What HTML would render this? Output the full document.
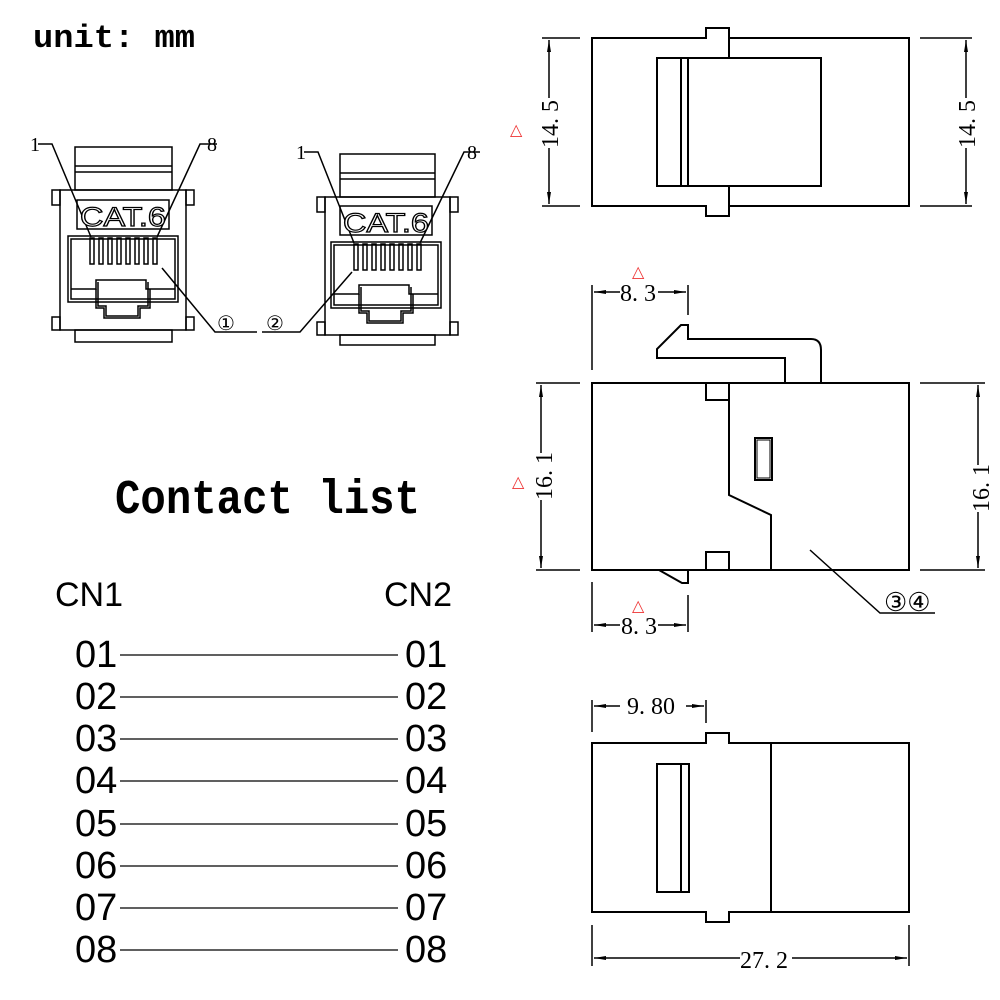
<!DOCTYPE html>
<html><head><meta charset="utf-8"><style>
body{margin:0;background:#fff;}
svg{display:block}
</style></head><body>
<svg width="1000" height="1000" viewBox="0 0 1000 1000" xmlns="http://www.w3.org/2000/svg">
<defs>
<marker id="a" markerWidth="12" markerHeight="6" refX="12" refY="3" orient="auto" markerUnits="userSpaceOnUse"><path d="M0,1 L12,3 L0,5 Z" fill="#000"/></marker>
</defs>
<rect width="1000" height="1000" fill="#fff"/>
<text x="33" y="47" font-family="Liberation Mono" font-weight="bold" font-size="32" textLength="162" lengthAdjust="spacingAndGlyphs">unit: mm</text>

<g fill="none" stroke="#000" stroke-width="1.5">
<rect x="75" y="147" width="97" height="43"/>
<line x1="75" y1="166" x2="172" y2="166"/><line x1="75" y1="172" x2="172" y2="172"/>
<rect x="60" y="190" width="126" height="140"/>
<rect x="52" y="190" width="8" height="15"/><rect x="186" y="190" width="8" height="15"/>
<rect x="52" y="317" width="8" height="13"/><rect x="186" y="317" width="8" height="13"/>
<rect x="77" y="200" width="92" height="29"/>
<rect x="68" y="236" width="110" height="66"/><rect x="71" y="239" width="104" height="60"/>
<path d="M71,289 H96 V280 H146 V289 H175"/>
<path d="M96,289 V308 H104 V318 H140 V308 H150 V289"/>
<path d="M98,282 V306 H106 V316 H138 V306 H148 V282"/>
<rect x="75" y="330" width="97" height="12"/>
<rect x="340" y="154" width="95" height="43"/>
<line x1="340" y1="173" x2="435" y2="173"/><line x1="340" y1="179" x2="435" y2="179"/>
<rect x="325" y="197" width="125" height="138"/>
<rect x="317" y="197" width="8" height="15"/><rect x="450" y="197" width="8" height="15"/>
<rect x="317" y="322" width="8" height="13"/><rect x="450" y="322" width="8" height="13"/>
<rect x="340" y="206" width="92" height="29"/>
<rect x="331" y="242" width="110" height="66"/><rect x="334" y="245" width="104" height="60"/>
<path d="M334,294 H359 V285 H409 V294 H438"/>
<path d="M359,294 V313 H367 V323 H403 V313 H413 V294"/>
<path d="M361,287 V311 H369 V321 H401 V311 H411 V287"/>
<rect x="340" y="335" width="95" height="10"/>
</g>
<g fill="none" stroke="#000" stroke-width="1.5">
<g id="p1">
<rect x="90" y="238" width="4" height="26"/><rect x="99" y="238" width="4" height="26"/><rect x="108" y="238" width="4" height="26"/><rect x="117" y="238" width="4" height="26"/><rect x="126" y="238" width="4" height="26"/><rect x="135" y="238" width="4" height="26"/><rect x="144" y="238" width="4" height="26"/><rect x="153" y="238" width="4" height="26"/>
</g>
<use href="#p1" transform="translate(264,6)"/>
<path d="M38,144 H52 L91,237"/><path d="M217,144 H200 L157,237"/>
<path d="M304,152 H318 L354,243"/><path d="M480,152 H464 L420,243"/>
<path d="M162,268 L215,332 H257"/><path d="M262,332 H300 L352,272"/>
</g>
<g font-family="Liberation Serif" font-size="20">
<text x="30" y="151">1</text><text x="207" y="151">8</text>
<text x="296" y="159">1</text><text x="467" y="159">8</text>
<text x="217" y="330" font-size="20">①</text><text x="266" y="330" font-size="20">②</text>
</g>
<g font-family="Liberation Sans" font-size="27" fill="#fff" stroke="#000" stroke-width="1.2">
<text x="80" y="226" textLength="86" lengthAdjust="spacingAndGlyphs">CAT.6</text>
<text x="343" y="232" textLength="86" lengthAdjust="spacingAndGlyphs">CAT.6</text>
</g>

<text x="115" y="513" font-family="Liberation Mono" font-weight="bold" font-size="42" textLength="305" lengthAdjust="spacingAndGlyphs" transform="translate(0,-77) scale(1,1.15)">Contact list</text>
<g font-family="Liberation Sans" font-size="34">
<text x="55" y="606">CN1</text><text x="384" y="606">CN2</text>
</g>
<g font-family="Liberation Sans" font-size="38">
<text x="75" y="667">01</text><text x="405" y="667">01</text>
<text x="75" y="709">02</text><text x="405" y="709">02</text>
<text x="75" y="751">03</text><text x="405" y="751">03</text>
<text x="75" y="793">04</text><text x="405" y="793">04</text>
<text x="75" y="836">05</text><text x="405" y="836">05</text>
<text x="75" y="878">06</text><text x="405" y="878">06</text>
<text x="75" y="920">07</text><text x="405" y="920">07</text>
<text x="75" y="962">08</text><text x="405" y="962">08</text>
</g>
<g stroke="#000" stroke-width="1.3">
<line x1="120" y1="655" x2="398" y2="655"/><line x1="120" y1="697" x2="398" y2="697"/>
<line x1="120" y1="739" x2="398" y2="739"/><line x1="120" y1="781" x2="398" y2="781"/>
<line x1="120" y1="824" x2="398" y2="824"/><line x1="120" y1="866" x2="398" y2="866"/>
<line x1="120" y1="908" x2="398" y2="908"/><line x1="120" y1="950" x2="398" y2="950"/>
</g>

<g fill="none" stroke="#000" stroke-width="2">
<path d="M592,38 H706 V28 H729 V38 H909 V206 H729 V216 H706 V206 H592 Z"/>
<line x1="729" y1="38" x2="729" y2="58"/><line x1="729" y1="186" x2="729" y2="206"/>
<rect x="657" y="58" width="164" height="128"/>
<line x1="681" y1="58" x2="681" y2="186"/><line x1="688" y1="58" x2="688" y2="186"/>
</g>
<g stroke="#000" stroke-width="1.5" fill="none">
<line x1="542" y1="38" x2="580" y2="38"/><line x1="542" y1="206" x2="580" y2="206"/>
<line x1="549" y1="98" x2="549" y2="40" marker-end="url(#a)"/><line x1="549" y1="148" x2="549" y2="204" marker-end="url(#a)"/>
<line x1="920" y1="38" x2="972" y2="38"/><line x1="920" y1="206" x2="972" y2="206"/>
<line x1="966" y1="98" x2="966" y2="40" marker-end="url(#a)"/><line x1="966" y1="148" x2="966" y2="204" marker-end="url(#a)"/>
</g>
<g font-family="Liberation Serif" font-size="24">
<text transform="translate(558,148) rotate(-90)">14. 5</text>
<text transform="translate(975,148) rotate(-90)">14. 5</text>
</g>
<text x="510" y="135" fill="#e33" font-size="16" font-family="DejaVu Sans">△</text>

<g fill="none" stroke="#000" stroke-width="2">
<rect x="592" y="383" width="317" height="187"/>
<path d="M706,383 V400 H729"/><path d="M706,570 V552 H729 V570"/>
<path d="M729,383 V495 L771,515 V570"/>
<rect x="755" y="438" width="17" height="42"/><rect x="757" y="440" width="13" height="38" stroke-width="1"/>
<path d="M785,383 V358 H657 V349 L681,325 H688 V339 H811 Q821,339 821,350 V383"/>
<path d="M659,570 L682,583 H688 V570"/>
</g>
<g stroke="#000" stroke-width="1.5" fill="none">
<line x1="536" y1="383" x2="580" y2="383"/><line x1="536" y1="570" x2="580" y2="570"/>
<line x1="541" y1="453" x2="541" y2="385" marker-end="url(#a)"/><line x1="541" y1="500" x2="541" y2="568" marker-end="url(#a)"/>
<line x1="920" y1="383" x2="985" y2="383"/><line x1="920" y1="570" x2="985" y2="570"/>
<line x1="978" y1="465" x2="978" y2="385" marker-end="url(#a)"/><line x1="978" y1="512" x2="978" y2="568" marker-end="url(#a)"/>
<line x1="592" y1="285" x2="592" y2="370"/><line x1="688" y1="285" x2="688" y2="315"/>
<line x1="620" y1="292" x2="594" y2="292" marker-end="url(#a)"/><line x1="658" y1="292" x2="686" y2="292" marker-end="url(#a)"/>
<line x1="592" y1="582" x2="592" y2="632"/><line x1="688" y1="595" x2="688" y2="632"/>
<line x1="620" y1="625" x2="594" y2="625" marker-end="url(#a)"/><line x1="658" y1="625" x2="686" y2="625" marker-end="url(#a)"/>
<path d="M810,550 L880,613 H935"/>
</g>
<g font-family="Liberation Serif" font-size="24">
<text x="620" y="301">8. 3</text><text x="621" y="634">8. 3</text>
<text transform="translate(552,500) rotate(-90)">16. 1</text>
<text transform="translate(989,512) rotate(-90)">16. 1</text>
<text x="884" y="611" font-size="26">③④</text>
</g>
<g fill="#e33" font-size="16" font-family="DejaVu Sans">
<text x="632" y="277">△</text><text x="632" y="611">△</text><text x="512" y="487">△</text>
</g>

<g fill="none" stroke="#000" stroke-width="2">
<path d="M592,743 H706 V733 H729 V743 H909 V912 H729 V922 H706 V912 H592 Z"/>
<line x1="771" y1="743" x2="771" y2="912"/>
<rect x="657" y="764" width="32" height="128"/><line x1="681" y1="764" x2="681" y2="892"/>
</g>
<g stroke="#000" stroke-width="1.5" fill="none">
<line x1="592" y1="700" x2="592" y2="732"/><line x1="706" y1="700" x2="706" y2="723"/>
<line x1="620" y1="706" x2="594" y2="706" marker-end="url(#a)"/><line x1="686" y1="706" x2="704" y2="706" marker-end="url(#a)"/>
<line x1="592" y1="925" x2="592" y2="966"/><line x1="909" y1="925" x2="909" y2="966"/>
<line x1="740" y1="958" x2="594" y2="958" marker-end="url(#a)"/><line x1="792" y1="958" x2="907" y2="958" marker-end="url(#a)"/>
</g>
<g font-family="Liberation Serif" font-size="24">
<text x="627" y="714">9. 80</text><text x="740" y="968">27. 2</text>
</g>
</svg>
</body></html>
